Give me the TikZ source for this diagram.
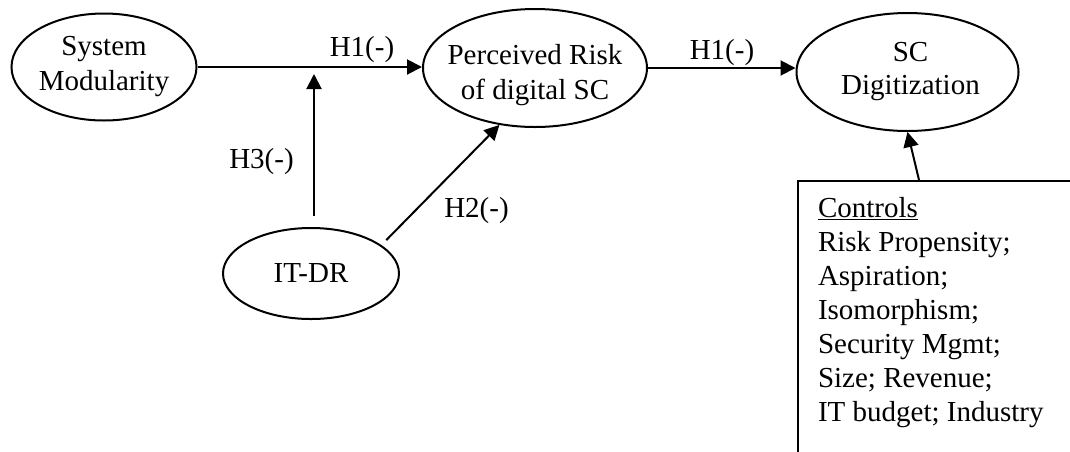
\documentclass[tikz,border=0pt]{standalone}
\usepackage{fontspec}
\setmainfont{Liberation Serif}
\usetikzlibrary{shapes.geometric, arrows.meta}
\begin{document}
\begin{tikzpicture}[x=1pt, y=-1pt,
  line width=2pt,
  arr/.style={-{Triangle[length=15pt,width=15pt]}},
  ell/.style={draw, ellipse, inner sep=0pt},
  etext/.style={align=center, font=\fontsize{29}{35}\selectfont, inner sep=0pt},
  hlabel/.style={font=\fontsize{29}{35}\selectfont, inner sep=0pt, anchor=base}]
\useasboundingbox (0,0) rectangle (1070,451);
\clip (0,0) rectangle (1070,451);
\fill[white] (0,0) rectangle (1070,451);

\node[ell, minimum width=185pt, minimum height=107pt,
  label={[etext]center:System\\Modularity}] (sm) at (104,67) {};
\node[ell, minimum width=224pt, minimum height=118pt,
  label={[etext, yshift=-7pt]center:Perceived Risk\\of digital SC}] (pr) at (535,68) {};
\node[ell, minimum width=222pt, minimum height=118pt,
  label={[etext, font=\fontsize{29}{33}\selectfont, xshift=3pt]center:SC\\Digitization}] (scd) at (907.5,72) {};
\node[ell, minimum width=176pt, minimum height=91pt,
  label={[etext]center:IT-DR}] (itdr) at (311,273.5) {};

\node[draw, anchor=north west, inner xsep=20pt, inner ysep=16pt] (ctrl) at (797,180)
  {\begin{minipage}[t][300pt][t]{250pt}\fontsize{29}{34}\selectfont\raggedright
   \underline{Controls}\\Risk Propensity;\\Aspiration;\\Isomorphism;\\Security Mgmt;\\Size; Revenue;\\IT budget; Industry\end{minipage}};

\coordinate (modpt) at (314,74);

\draw[arr] (sm.east) -- (sm.east -| pr.west);
\draw[arr] (pr.east) -- (pr.east -| scd.west);
\draw[arr, shorten <=11pt] (itdr.north -| modpt) -- (modpt);
\draw[arr, shorten <=7pt] (itdr.22) -- (pr.238);
\draw[arr] ([xshift=122pt]ctrl.north west) -- (scd.south);

\node[hlabel] (h1a) at (362,56) {H1(-)};
\node[hlabel] (h1b) at (722,59) {H1(-)};
\node[hlabel] (h3) at (261.5,168) {H3(-)};
\node[hlabel] (h2) at (476.5,217) {H2(-)};
\end{tikzpicture}
\end{document}
